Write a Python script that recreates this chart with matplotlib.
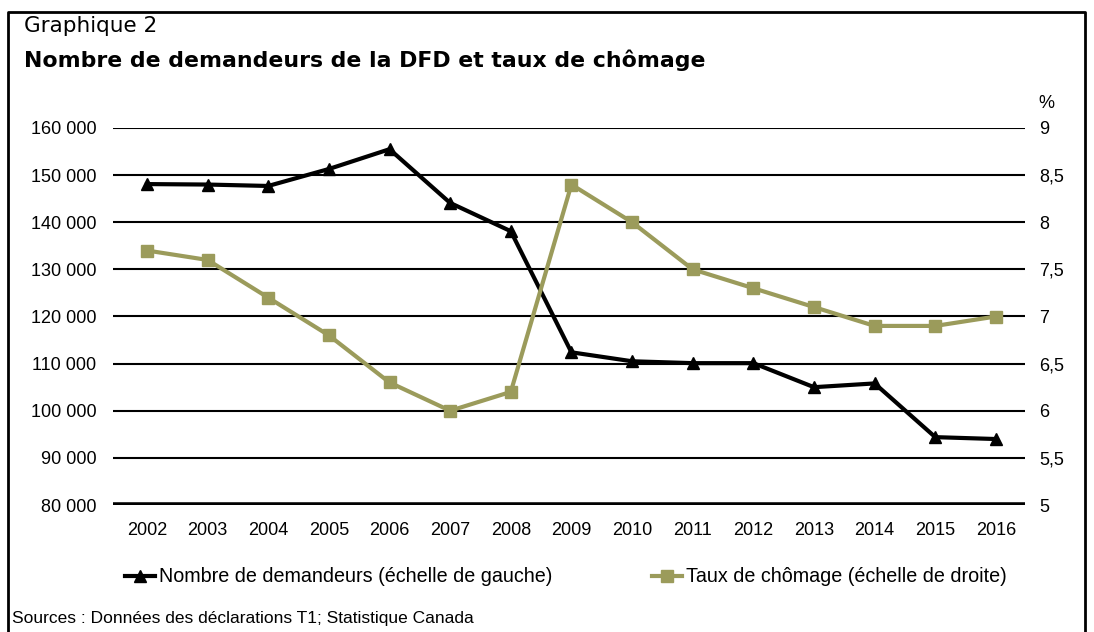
import matplotlib.pyplot as plt
from matplotlib.lines import Line2D

# Données
annees = ['2002', '2003', '2004', '2005', '2006', '2007', '2008', '2009',
          '2010', '2011', '2012', '2013', '2014', '2015', '2016']
demandeurs = [148100, 148000, 147700, 151300, 155500, 144100, 138100, 112400,
              110500, 110100, 110100, 105000, 105800, 94400, 94000]
chomage = [7.7, 7.6, 7.2, 6.8, 6.3, 6.0, 6.2, 8.4, 8.0, 7.5, 7.3, 7.1, 6.9, 6.9, 7.0]
ticks_gauche = [80000, 90000, 100000, 110000, 120000, 130000, 140000, 150000, 160000]
ticks_droite = [5, 5.5, 6, 6.5, 7, 7.5, 8, 8.5, 9]

olive = '#9B9B5B'
police = 'Liberation Sans'

fig = plt.figure(figsize=(10.94, 6.32), dpi=100)
ax = fig.add_axes([113 / 1094, 1 - 505 / 632, 912 / 1094, 377 / 632])
ax2 = ax.twinx()

x = list(range(len(annees)))

# grille
for v in ticks_gauche[1:]:
    ax.axhline(v, color='black', lw=1.5, zorder=1)
ax.axhline(80000, color='black', lw=4, zorder=1)

ax.plot(x, demandeurs, color='black', lw=3, marker='^', ms=9, zorder=3)
ax2.plot(x, chomage, color=olive, lw=3, marker='s', ms=8, zorder=3)

ax.set_ylim(80000, 160000)
ax2.set_ylim(5, 9)
ax.set_xlim(-0.56, 14.48)
ax.set_yticks(ticks_gauche)
ax.set_yticklabels([f'{v:,}'.replace(',', ' ') for v in ticks_gauche],
                   fontsize=13, family=police)
ax2.set_yticks(ticks_droite)
ax2.set_yticklabels([f'{v:g}'.replace('.', ',') for v in ticks_droite],
                    fontsize=13, family=police)
ax.set_xticks(x)
ax.set_xticklabels(annees, fontsize=13, family=police)
ax.tick_params(length=0, pad=12)
ax2.tick_params(length=0, pad=10)
ax.tick_params(axis='x', pad=12)
for a in (ax, ax2):
    for s in a.spines.values():
        s.set_visible(False)
ax2.set_zorder(ax.get_zorder() + 1)
ax2.patch.set_visible(False)

# textes
fig.text(24 / 1094, 1 - 26 / 632, 'Graphique 2', fontsize=15.5, family='DejaVu Sans',
         va='center')
fig.text(24 / 1094, 1 - 60 / 632, 'Nombre de demandeurs de la DFD et taux de chômage',
         fontsize=15.8, fontweight='bold', family='DejaVu Sans', va='center')
fig.text(1038 / 1094, 1 - 104 / 632, '%', fontsize=13, family=police, va='center')
fig.text(12 / 1094, 1 - 618 / 632, 'Sources : Données des déclarations T1; Statistique Canada',
         fontsize=12.5, family=police, va='center')

# légende
h1 = Line2D([], [], color='black', lw=3, marker='^', ms=9)
h2 = Line2D([], [], color=olive, lw=3, marker='s', ms=8)
for h, lab, x0 in [(h1, 'Nombre de demandeurs (échelle de gauche)', 125),
                   (h2, 'Taux de chômage (échelle de droite)', 652)]:
    fig.legend([h], [lab], loc='center left', bbox_to_anchor=(x0 / 1094, 1 - 577 / 632),
               frameon=False, handlelength=1.5, handletextpad=0.2, borderpad=0,
               borderaxespad=0, prop={'family': police, 'size': 14.2})

# cadre
fig.add_artist(Line2D([8 / 1094, 8 / 1094, 1085 / 1094, 1085 / 1094],
                      [0, 1 - 12 / 632, 1 - 12 / 632, 0],
                      transform=fig.transFigure, color='black', lw=2))

fig.savefig('out.png', dpi=100)
